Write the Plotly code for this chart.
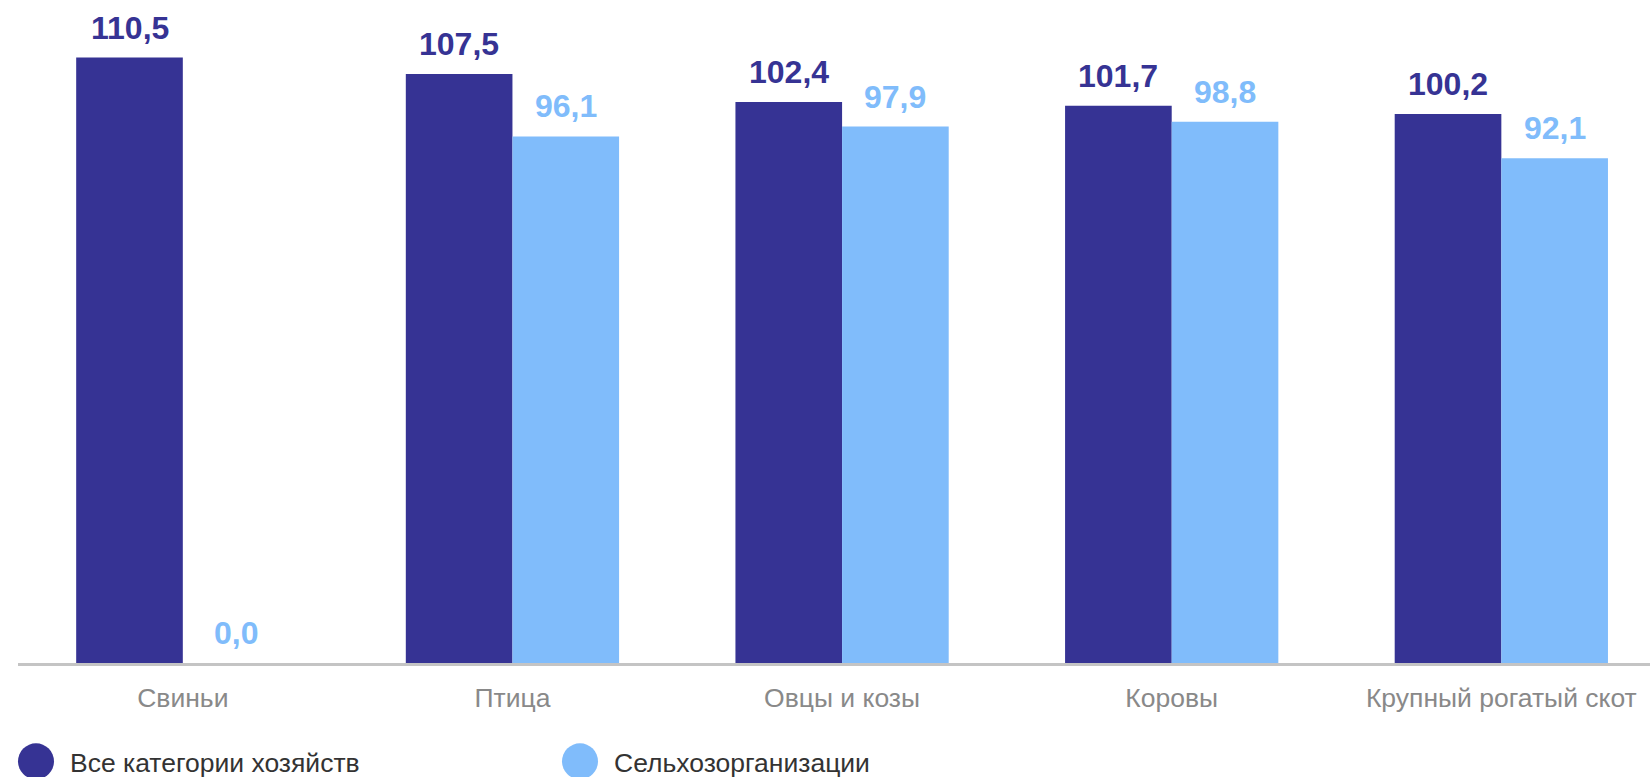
import plotly.graph_objects as go

categories = ["Свиньи", "Птица", "Овцы и козы", "Коровы", "Крупный рогатый скот"]
series_names = ["Все категории хозяйств", "Сельхозорганизации"]
all_farms = [110.5, 107.5, 102.4, 101.7, 100.2]
agri_orgs = [0.0, 96.1, 97.9, 98.8, 92.1]

colors = ["#363394", "#80BCFB"]
values = [all_farms, agri_orgs]

W, H = 1650, 777
ML, MR, MT, MB = 18, 0, 0, 114

fig = go.Figure()
for name, vals, col in zip(series_names, values, colors):
    fig.add_trace(go.Bar(
        x=categories, y=vals, name=name, marker=dict(color=col, line=dict(width=0)),
        hoverinfo="x+y", showlegend=False,
    ))

# value labels
half_bar = 53.3
for i, (vals, col) in enumerate(zip(values, colors)):
    shift = -half_bar if i == 0 else half_bar
    for c, v in zip(categories, vals):
        fig.add_annotation(
            x=c, y=v, xref="x", yref="y", xshift=shift, yshift=10,
            text=f"{v:.1f}".replace(".", ","), showarrow=False,
            xanchor="center", yanchor="bottom",
            font=dict(family="Liberation Sans, Arial, sans-serif", size=32, color=col, weight="bold"),
        )

# custom legend with large circles
legend_x = [18, 562]
for name, col, lx in zip(series_names, colors, legend_x):
    fig.add_shape(
        type="circle", xref="paper", yref="paper", xsizemode="pixel", ysizemode="pixel",
        xanchor=0, yanchor=0, x0=lx - ML, x1=lx - ML + 36, y0=662.7 - 779, y1=662.7 - 743,
        fillcolor=col, line=dict(width=0), layer="above",
    )
    fig.add_annotation(
        xref="paper", yref="paper", x=(lx + 50 - ML) / (W - ML - MR), y=0,
        yshift=-(763 - 662.7), xanchor="left", yanchor="middle", showarrow=False,
        text=name, font=dict(family="Liberation Sans, Arial, sans-serif", size=26.5, color="#333333"),
    )

fig.update_layout(
    width=W, height=H,
    margin=dict(l=ML, r=MR, t=MT, b=MB, pad=0),
    paper_bgcolor="white", plot_bgcolor="white",
    barmode="group", bargap=0.353, bargroupgap=0,
    showlegend=False,
    font=dict(family="Liberation Sans, Arial, sans-serif"),
    xaxis=dict(
        type="category", range=[-0.5, 4.451], showgrid=False, zeroline=False,
        showline=True, linecolor="#C4C4C4", linewidth=2.5, ticks="",
        tickfont=dict(size=26.5, color="#898989"), ticklabelstandoff=9,
    ),
    yaxis=dict(range=[0, 121.0], visible=False, showgrid=False, zeroline=False),
)

fig.write_html(
    "out.html",
    config={"displayModeBar": False},
    post_script="document.body.style.margin='0';document.body.style.overflow='hidden';",
)
